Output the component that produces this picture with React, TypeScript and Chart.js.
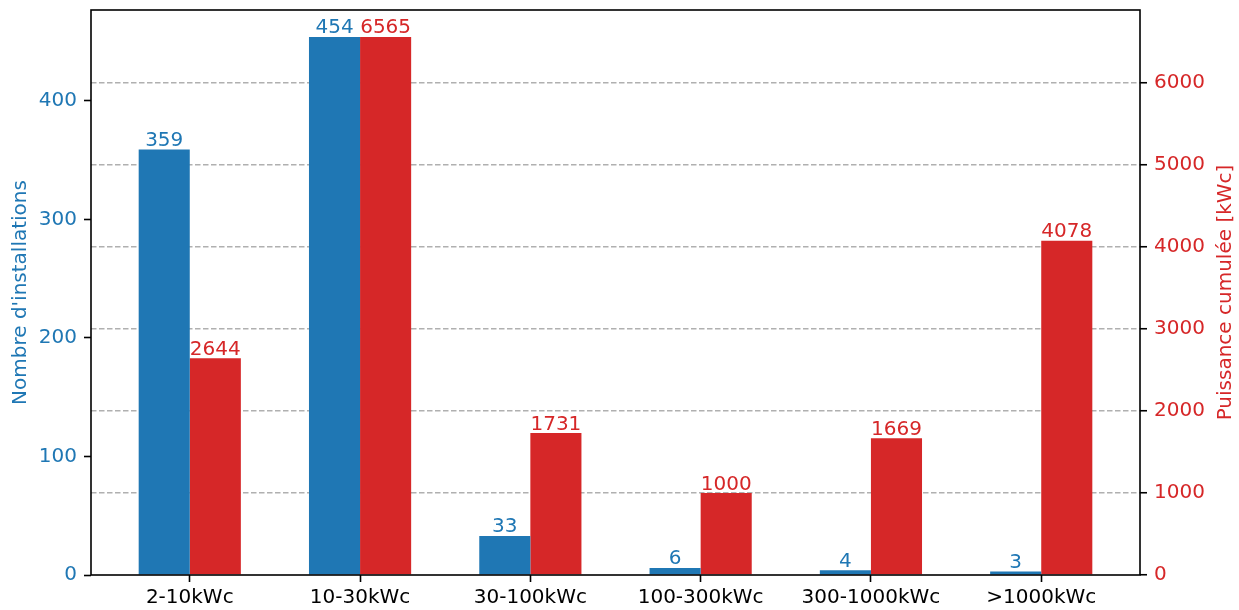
import React, { useEffect, useRef } from 'react';
import { Chart, registerables } from 'chart.js';

Chart.register(...registerables);

const categories = ['2-10kWc', '10-30kWc', '30-100kWc', '100-300kWc', '300-1000kWc', '>1000kWc'];
const installations = [359, 454, 33, 6, 4, 3];
const puissance = [2644, 6565, 1731, 1000, 1669, 4078];
const leftTicks = [0, 100, 200, 300, 400];
const rightTicks = [0, 1000, 2000, 3000, 4000, 5000, 6000];

const leftTitle = "Nombre d'installations";
const rightTitle = 'Puissance cumulée [kWc]';

const BLUE = '#1f77b4';
const RED = '#d62728';
const FAMILY = '"DejaVu Sans", sans-serif';
const FS = 20;

const zeroPad = (scale: any) => {
  scale.paddingTop = 0;
  scale.paddingBottom = 0;
  scale.paddingLeft = 0;
  scale.paddingRight = 0;
};

const decor = {
  id: 'decor',
  afterDraw(chart: any) {
    const { ctx, chartArea: a } = chart;
    ctx.save();
    ctx.font = `${FS}px ${FAMILY}`;
    ctx.textAlign = 'center';
    ctx.textBaseline = 'alphabetic';
    chart.data.datasets.forEach((ds: any, di: number) => {
      const meta = chart.getDatasetMeta(di);
      ctx.fillStyle = ds.backgroundColor;
      meta.data.forEach((bar: any, i: number) => {
        ctx.fillText(String(ds.data[i].y), bar.x, bar.y - 3.5);
      });
    });
    // frame
    ctx.strokeStyle = '#000';
    ctx.lineWidth = 1.6;
    ctx.strokeRect(a.left, a.top, a.right - a.left, a.bottom - a.top);
    // axis titles
    const midY = (a.top + a.bottom) / 2;
    ctx.fillStyle = BLUE;
    ctx.save();
    ctx.translate(26, midY);
    ctx.rotate(-Math.PI / 2);
    ctx.fillText(leftTitle, 0, 0);
    ctx.restore();
    ctx.fillStyle = RED;
    ctx.save();
    ctx.translate(1231, midY);
    ctx.rotate(-Math.PI / 2);
    ctx.fillText(rightTitle, 0, 0);
    ctx.restore();
    ctx.restore();
  },
};

export default function App() {
  const ref = useRef<HTMLCanvasElement>(null);

  useEffect(() => {
    if (!ref.current) return;
    Chart.defaults.font.family = FAMILY;
    Chart.defaults.font.size = FS;
    const chart = new Chart(ref.current, {
      type: 'bar',
      data: {
        datasets: [
          {
            label: leftTitle,
            data: installations.map((v, i) => ({ x: i, y: v })),
            backgroundColor: BLUE,
            borderWidth: 0,
            yAxisID: 'yLeft',
            categoryPercentage: 0.6,
            barPercentage: 1.0,
            inflateAmount: 0,
          },
          {
            label: rightTitle,
            data: puissance.map((v, i) => ({ x: i, y: v })),
            backgroundColor: RED,
            borderWidth: 0,
            yAxisID: 'yRight',
            categoryPercentage: 0.6,
            barPercentage: 1.0,
            inflateAmount: 0,
          },
        ],
      } as any,
      options: {
        responsive: false,
        animation: false,
        devicePixelRatio: 1,
        layout: { padding: { top: 10, left: 0, right: 0, bottom: 0 } },
        plugins: {
          legend: { display: false },
          tooltip: { enabled: false },
        },
        scales: {
          x: {
            type: 'linear',
            min: -0.58,
            max: 5.58,
            offset: false,
            grid: {
              display: true,
              offset: false,
              drawOnChartArea: false,
              drawTicks: true,
              tickLength: 7,
              tickColor: '#000',
              tickWidth: 1.6,
            },
            border: { display: false },
            afterBuildTicks: (scale: any) => {
              scale.ticks = categories.map((_, i) => ({ value: i }));
            },
            afterFit: (scale: any) => {
              scale.height = 35;
              zeroPad(scale);
            },
            ticks: {
              color: '#000',
              padding: 4,
              autoSkip: false,
              maxRotation: 0,
              minRotation: 0,
              font: { size: FS, family: FAMILY },
              callback: (v: any) => categories[v] ?? '',
            },
          },
          yLeft: {
            type: 'linear',
            position: 'left',
            min: 0,
            max: 454 * 1.05,
            grid: {
              display: true,
              drawOnChartArea: false,
              drawTicks: true,
              tickLength: 7,
              tickColor: '#000',
              tickWidth: 1.6,
            },
            border: { display: false },
            afterBuildTicks: (scale: any) => {
              scale.ticks = leftTicks.map((v) => ({ value: v }));
            },
            afterFit: (scale: any) => {
              scale.width = 91;
              zeroPad(scale);
            },
            ticks: {
              color: BLUE,
              padding: 7,
              includeBounds: false,
              font: { size: FS, family: FAMILY },
              callback: (v: any) => String(v),
            },
          },
          yRight: {
            type: 'linear',
            position: 'right',
            min: 0,
            max: 6565 * 1.05,
            z: 1,
            grid: {
              display: true,
              drawOnChartArea: true,
              drawTicks: true,
              color: (c: any) => (c.tick && c.tick.value === 0 ? 'rgba(0,0,0,0)' : '#b0b0b0'),
              lineWidth: 1.5,
              tickLength: 7,
              tickColor: '#000',
              tickWidth: 1.6,
            },
            border: { display: false, dash: [5.5, 2.5] },
            afterBuildTicks: (scale: any) => {
              scale.ticks = rightTicks.map((v) => ({ value: v }));
            },
            afterFit: (scale: any) => {
              scale.width = 99;
              zeroPad(scale);
            },
            ticks: {
              color: RED,
              padding: 7,
              includeBounds: false,
              font: { size: FS, family: FAMILY },
              callback: (v: any) => String(v),
            },
          },
        },
      } as any,
      plugins: [decor],
    });
    return () => chart.destroy();
  }, []);

  return (
    <div style={{ position: 'absolute', left: 0, top: 0, width: 1239, height: 610 }}>
      <canvas ref={ref} width={1239} height={610} style={{ display: 'block' }} />
    </div>
  );
}
